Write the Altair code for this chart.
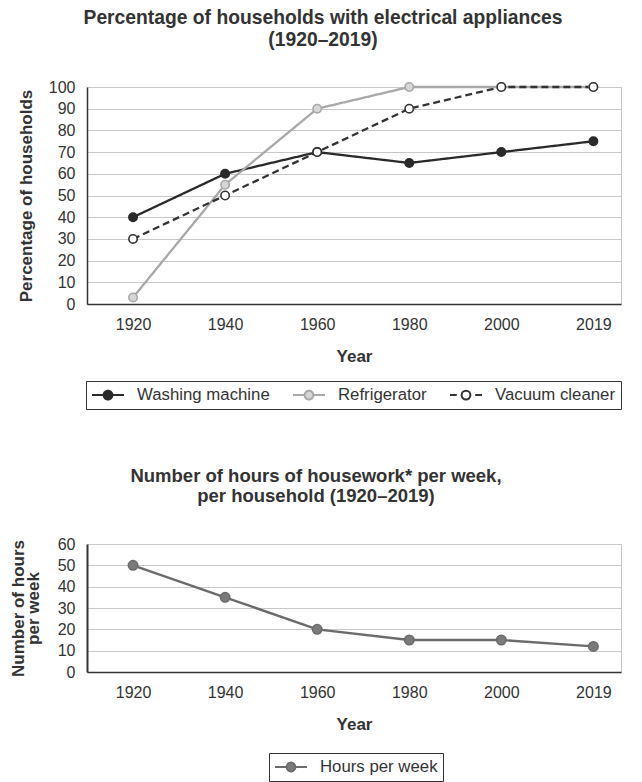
import altair as alt
import pandas as pd

years = ["1920", "1940", "1960", "1980", "2000", "2019"]
series = ["Washing machine", "Refrigerator", "Vacuum cleaner"]
washing = [40, 60, 70, 65, 70, 75]
refrigerator = [3, 55, 90, 100, 100, 100]
vacuum = [30, 50, 70, 90, 100, 100]
hours_label = "Hours per week"
hours = [50, 35, 20, 15, 15, 12]

rows = []
for name, vals in zip(series, [washing, refrigerator, vacuum]):
    for i, (yr, v) in enumerate(zip(years, vals)):
        rows.append({"idx": i, "year": yr, "series": name, "value": v})
df1 = pd.DataFrame(rows)
df2 = pd.DataFrame({"idx": list(range(len(years))), "year": years,
                    "series": hours_label, "value": hours})

FONT = "Liberation Sans"
TXT = "#333333"
label_expr = "[" + ",".join(f"'{y}'" for y in years) + "][datum.value]"
CIRCLE = "M-0.55,0A0.55,0.55 0 1,1 0.55,0A0.55,0.55 0 1,1 -0.55,0"
# circle split into quarter arcs so each piece stays shorter than one dash
CIRCLE_Q = ("M0.55,0A0.55,0.55 0 0,1 0,0.55"
            "M0,0.55A0.55,0.55 0 0,1 -0.55,0"
            "M-0.55,0A0.55,0.55 0 0,1 0,-0.55"
            "M0,-0.55A0.55,0.55 0 0,1 0.55,0")
SYM_SOLID = "M-2,0L-0.5,0M2,0L0.5,0" + CIRCLE
SYM_DASHED = "M-2,0L-1.15,0M2,0L1.15,0" + CIRCLE_Q


def x_enc():
    return alt.X("idx:Q",
                 scale=alt.Scale(domain=[-0.5, 5.3], nice=False, zero=False),
                 axis=alt.Axis(values=list(range(len(years))), labelExpr=label_expr,
                               title="Year", grid=False, ticks=False,
                               domainColor=TXT, domainWidth=1.5,
                               labelPadding=12, titlePadding=16))


def legend(x, y, symbol=None, sw=2):
    kw = dict(title=None, orient="none", legendX=x, legendY=y,
              direction="horizontal", symbolSize=256,
              symbolStrokeWidth=sw, symbolOffset=8, labelOffset=20,
              columnPadding=19, padding=5, strokeColor=TXT,
              labelFontSize=16.8, labelFont=FONT, labelColor=TXT)
    if symbol:
        kw["symbolType"] = symbol
    return alt.Legend(**kw)


leg1 = legend(-1, 294, sw=2)

color_scale = alt.Scale(domain=series, range=["#2a2a2a", "#a8a8a8", "#333333"])
dash_scale = alt.Scale(domain=series, range=[[1, 0], [1, 0], [7, 4]])
fill_scale = alt.Scale(domain=series, range=["#2a2a2a", "#d6d6d6", "#ffffff"])
shape_scale = alt.Scale(domain=series, range=[SYM_SOLID, SYM_SOLID, SYM_DASHED])

y1 = alt.Y("value:Q", scale=alt.Scale(domain=[0, 100], nice=False),
           axis=alt.Axis(values=list(range(0, 101, 10)), title="Percentage of households",
                         ticks=False, domainColor=TXT, domainWidth=1.5,
                         labelPadding=12, titlePadding=13))

base1 = alt.Chart(df1)
lines1 = base1.mark_line(strokeWidth=2.3).encode(
    x=x_enc(), y=y1,
    color=alt.Color("series:N", scale=color_scale, legend=leg1),
    strokeDash=alt.StrokeDash("series:N", scale=dash_scale, legend=None),
)
points1 = base1.mark_point(shape="circle", size=70, opacity=1, strokeWidth=1.6).encode(
    x=x_enc(), y=y1,
    color=alt.Color("series:N", scale=color_scale, legend=leg1),
    fill=alt.Fill("series:N", scale=fill_scale, legend=leg1),
)
# invisible layer that only carries the legend symbol shapes
legend_shapes = base1.mark_point(opacity=0).encode(
    x=x_enc(), y=y1,
    shape=alt.Shape("series:N", scale=shape_scale, legend=leg1),
)
top = alt.layer(lines1, points1, legend_shapes).properties(
    width=534, height=217,
    title=alt.TitleParams(text=["Percentage of households with electrical appliances",
                                "(1920\u20132019)"],
                          fontSize=19.3, fontWeight="bold", font=FONT, color=TXT,
                          lineHeight=22, offset=29, dx=-31, anchor="middle"),
)

leg2 = legend(182, 209, symbol=SYM_SOLID)
y2 = alt.Y("value:Q", scale=alt.Scale(domain=[0, 60], nice=False),
           axis=alt.Axis(values=list(range(0, 61, 10)),
                         title=["Number of hours", "per week"],
                         titleLineHeight=15,
                         ticks=False, domainColor=TXT, domainWidth=2,
                         labelPadding=12, titlePadding=15))
base2 = alt.Chart(df2)
hcolor = alt.Scale(domain=[hours_label], range=["#6b6b6b"])
lines2 = base2.mark_line(strokeWidth=2.4).encode(
    x=x_enc(), y=y2,
    color=alt.Color("series:N", scale=hcolor, legend=leg2),
)
points2 = base2.mark_point(shape="circle", size=90, opacity=1, strokeWidth=1.5).encode(
    x=x_enc(), y=y2,
    color=alt.Color("series:N", scale=hcolor, legend=leg2),
    fill=alt.Fill("series:N", scale=alt.Scale(domain=[hours_label], range=["#7a7a7a"]),
                  legend=leg2),
)
bottom = alt.layer(lines2, points2).properties(
    width=534, height=128,
    title=alt.TitleParams(text=["Number of hours of housework* per week,",
                                "per household (1920\u20132019)"],
                          fontSize=18.5, fontWeight="bold", font=FONT, color=TXT,
                          lineHeight=20, offset=31, dx=-38, anchor="middle"),
)

chart = alt.vconcat(top, bottom, spacing=240, bounds="flush").resolve_scale(
    color="independent", fill="independent", strokeDash="independent",
    shape="independent", x="independent", y="independent",
).resolve_legend(
    color="independent", fill="independent", shape="independent",
).properties(padding=0, background="white").configure_view(
    stroke="#c4c4c4", strokeWidth=1,
).configure_axis(
    labelFont=FONT, labelFontSize=16, labelColor=TXT,
    titleFont=FONT, titleFontSize=17, titleFontWeight="bold", titleColor=TXT,
    gridColor="#c8c8c8", gridWidth=1,
)

chart.save("out.html", embed_options={"renderer": "svg", "actions": False})
